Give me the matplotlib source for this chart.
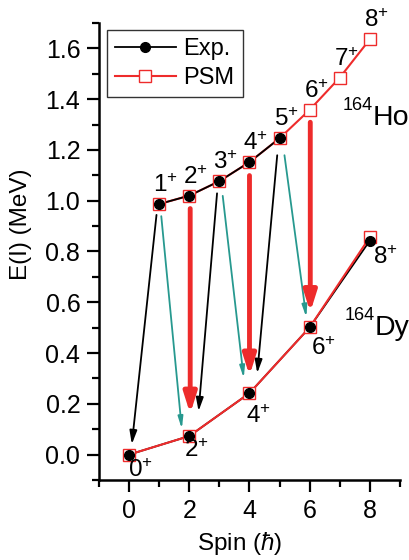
import numpy as np
import matplotlib.pyplot as plt

plt.rcParams['font.family'] = ['Liberation Sans', 'DejaVu Sans']
plt.rcParams['mathtext.fontset'] = 'custom'
plt.rcParams['mathtext.rm'] = 'Liberation Sans'
plt.rcParams['mathtext.it'] = 'Liberation Sans:italic'

# 164Dy ground band and 164Ho band, energies in MeV
dy_spin = [0, 2, 4, 6, 8]
dy_exp = [0.0, 0.073, 0.242, 0.501, 0.843]
dy_psm = [0.0, 0.073, 0.242, 0.501, 0.857]

ho_spin_exp = [1, 2, 3, 4, 5]
ho_exp = [0.987, 1.020, 1.077, 1.152, 1.246]
ho_spin_psm = [1, 2, 3, 4, 5, 6, 7, 8]
ho_psm = [0.987, 1.020, 1.077, 1.152, 1.246, 1.358, 1.485, 1.636]

# transitions (spin_from, E_from, spin_to, E_to)
black_arrows = [(0.92, 0.955, 0.08, 0.03), (2.93, 1.04, 2.3, 0.16), (4.93, 1.19, 4.25, 0.31)]
teal_arrows = [(1.06, 0.95, 1.76, 0.09), (3.1, 1.03, 3.82, 0.29), (5.15, 1.19, 5.9, 0.53)]
red_arrows = [(2.03, 0.98, 2.03, 0.15), (4.0, 1.11, 4.0, 0.30), (6.02, 1.32, 6.02, 0.55)]

ho_labels = ['1', '2', '3', '4', '5', '6', '7', '8']
dy_labels = ['0', '2', '4', '6', '8']

red = '#ee2b2b'
teal = '#27998f'

fig = plt.figure(figsize=(4.1, 5.6), dpi=100)
ax = fig.add_axes([0.2415, 0.1429, 0.734, 0.816])

# lines
ax.plot(ho_spin_psm, ho_psm, color=red, lw=1.5, zorder=2)
ax.plot(ho_spin_exp, ho_exp, color='black', lw=1.3, zorder=2.5)
ax.plot(dy_spin, dy_exp, color='black', lw=1.3, zorder=2.6)
ax.plot(dy_spin, dy_psm, color=red, lw=1.5, zorder=2.7)
# markers
ax.plot(dy_spin, dy_psm, ls='none', marker='s', ms=8, mfc='white', mec=red, mew=1.0, zorder=3)
ax.plot(ho_spin_psm, ho_psm, ls='none', marker='s', ms=8, mfc='white', mec=red, mew=1.0, zorder=3)
ax.plot(dy_spin, dy_exp, ls='none', marker='o', ms=7, color='black', zorder=4)
ax.plot(ho_spin_exp, ho_exp, ls='none', marker='o', ms=7, color='black', zorder=4)

for x0, y0, x1, y1 in black_arrows:
    ax.annotate('', xy=(x1, y1), xytext=(x0, y0),
                arrowprops=dict(arrowstyle='-|>,head_length=0.8,head_width=0.22', color='black', lw=1.3))
for x0, y0, x1, y1 in teal_arrows:
    ax.annotate('', xy=(x1, y1), xytext=(x0, y0),
                arrowprops=dict(arrowstyle='-|>,head_length=0.7,head_width=0.15', color=teal, lw=1.3))
for x0, y0, x1, y1 in red_arrows:
    ax.annotate('', xy=(x1, y1), xytext=(x0, y0),
                arrowprops=dict(arrowstyle='-|>,head_length=1.2,head_width=0.38', color=red, lw=3.5))

for s, e, lab in zip(ho_spin_psm, ho_psm, ho_labels):
    ax.annotate(lab + '$^{+}$', (s, e), xytext=(-6, 12), textcoords='offset pixels',
                ha='left', va='baseline', fontsize=17.5)
dy_off = [(-1, -22), (-5, -21), (-3, -30), (1, -28), (3, -27)]
for s, e, lab, off in zip(dy_spin, dy_psm, dy_labels, dy_off):
    ax.annotate(lab + '$^{+}$', (s, e), xytext=off, textcoords='offset pixels',
                ha='left', va='baseline', fontsize=17.5)

ax.text(8.1, 1.297, 'Ho', ha='left', va='baseline', fontsize=20.5)
ax.annotate('164', (8.1, 1.297), xytext=(0, 15), textcoords='offset pixels',
            ha='right', va='baseline', fontsize=13)
ax.text(8.17, 0.472, 'Dy', ha='left', va='baseline', fontsize=20.5)
ax.annotate('164', (8.17, 0.472), xytext=(0, 15), textcoords='offset pixels',
            ha='right', va='baseline', fontsize=13)

ax.set_xlim(-1, 9)
ax.set_ylim(-0.1, 1.7)
ax.set_xticks([0, 2, 4, 6, 8])
ax.set_xticks(np.arange(-1, 10, 1), minor=True)
ax.set_yticks(np.arange(0, 1.7, 0.2))
ax.set_yticks(np.arange(-0.1, 1.71, 0.1), minor=True)
ax.yaxis.set_major_formatter(plt.FormatStrFormatter('%.1f'))
ax.spines['top'].set_visible(False)
ax.spines['right'].set_visible(False)
for sp in ['left', 'bottom']:
    ax.spines[sp].set_linewidth(1.8)
ax.tick_params(which='major', direction='out', length=8.5, width=1.6, labelsize=18, pad=5)
ax.tick_params(which='minor', direction='out', length=5, width=1.6)

ax.set_xlabel('Spin ($\\hbar$)', fontsize=17.5)
ax.set_ylabel('E(I) (MeV)', fontsize=17.5)
ax.xaxis.set_label_coords(0.468, -0.11)
ax.yaxis.set_label_coords(-0.223, 0.56)

leg_exp, = ax.plot([], [], color='black', lw=1.3, marker='o', ms=7)
leg_psm, = ax.plot([], [], color=red, lw=1.5, marker='s', ms=8, mfc='white', mec=red, mew=1.0)
ax.legend([leg_exp, leg_psm], ['Exp.', 'PSM'], loc='upper left', bbox_to_anchor=(0.025, 0.985), fontsize=17,
          frameon=True, fancybox=False, edgecolor='black', handlelength=2.6, borderpad=0.35,
          labelspacing=0.3, handletextpad=0.3, borderaxespad=0)

fig.savefig('out.png', dpi=100)
